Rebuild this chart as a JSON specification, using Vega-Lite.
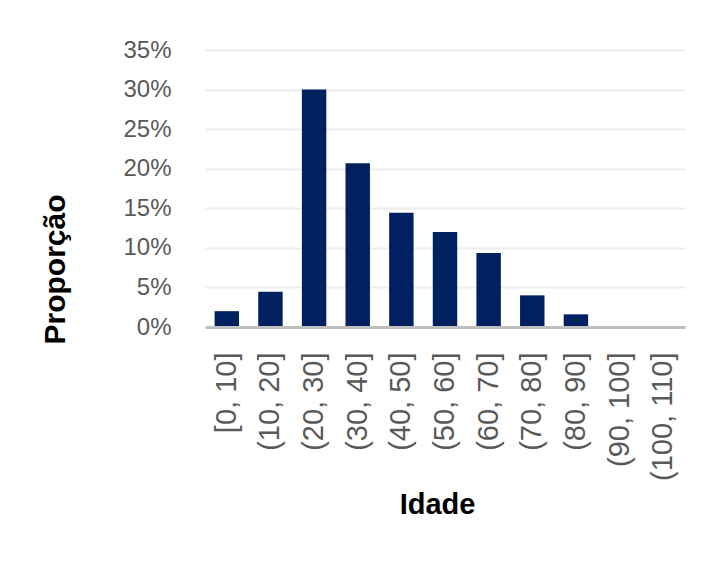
{
  "$schema": "https://vega.github.io/schema/vega-lite/v6.json",
  "autosize": {"type": "none"},
  "width": 480,
  "height": 277,
  "padding": {"left": 205, "top": 50, "right": 26, "bottom": 259},
  "background": "white",
  "config": {
    "view": {"stroke": null},
    "font": "Liberation Sans"
  },
  "data": {
    "values": [
      {"faixa": "[0, 10]", "proporcao": 0.020},
      {"faixa": "(10, 20]", "proporcao": 0.0445},
      {"faixa": "(20, 30]", "proporcao": 0.300},
      {"faixa": "(30, 40]", "proporcao": 0.207},
      {"faixa": "(40, 50]", "proporcao": 0.1445},
      {"faixa": "(50, 60]", "proporcao": 0.120},
      {"faixa": "(60, 70]", "proporcao": 0.0935},
      {"faixa": "(70, 80]", "proporcao": 0.040},
      {"faixa": "(80, 90]", "proporcao": 0.016},
      {"faixa": "(90, 100]", "proporcao": 0.0005},
      {"faixa": "(100, 110]", "proporcao": 0.0}
    ]
  },
  "mark": {"type": "bar", "color": "#002060"},
  "encoding": {
    "x": {
      "field": "faixa",
      "type": "nominal",
      "sort": null,
      "scale": {"paddingInner": 0.44, "paddingOuter": 0.22},
      "axis": {
        "title": "Idade",
        "titleFont": "Liberation Sans",
        "titleFontSize": 29,
        "titleFontWeight": "bold",
        "titleColor": "#000000",
        "titleX": 232,
        "titleY": 186,
        "titleBaseline": "alphabetic",
        "labelAngle": -90,
        "labelFontSize": 29,
        "labelColor": "#595959",
        "labelPadding": 25,
        "ticks": false,
        "tickSize": 0,
        "domainColor": "#bfbfbf",
        "domainWidth": 3,
        "zindex": 1
      }
    },
    "y": {
      "field": "proporcao",
      "type": "quantitative",
      "scale": {"domain": [0, 0.35]},
      "axis": {
        "title": "Proporção",
        "titleFont": "Liberation Sans",
        "titleFontSize": 30,
        "titleFontWeight": "bold",
        "titleColor": "#000000",
        "titleAngle": -90,
        "titleAlign": "center",
        "titleBaseline": "alphabetic",
        "titleX": -141,
        "titleY": 219,
        "values": [0, 0.05, 0.1, 0.15, 0.2, 0.25, 0.3, 0.35],
        "format": ".0%",
        "labelFontSize": 24,
        "labelColor": "#595959",
        "labelPadding": 34,
        "ticks": false,
        "tickSize": 0,
        "domain": false,
        "grid": true,
        "gridColor": "#eeeeee",
        "gridWidth": 2
      }
    }
  }
}
